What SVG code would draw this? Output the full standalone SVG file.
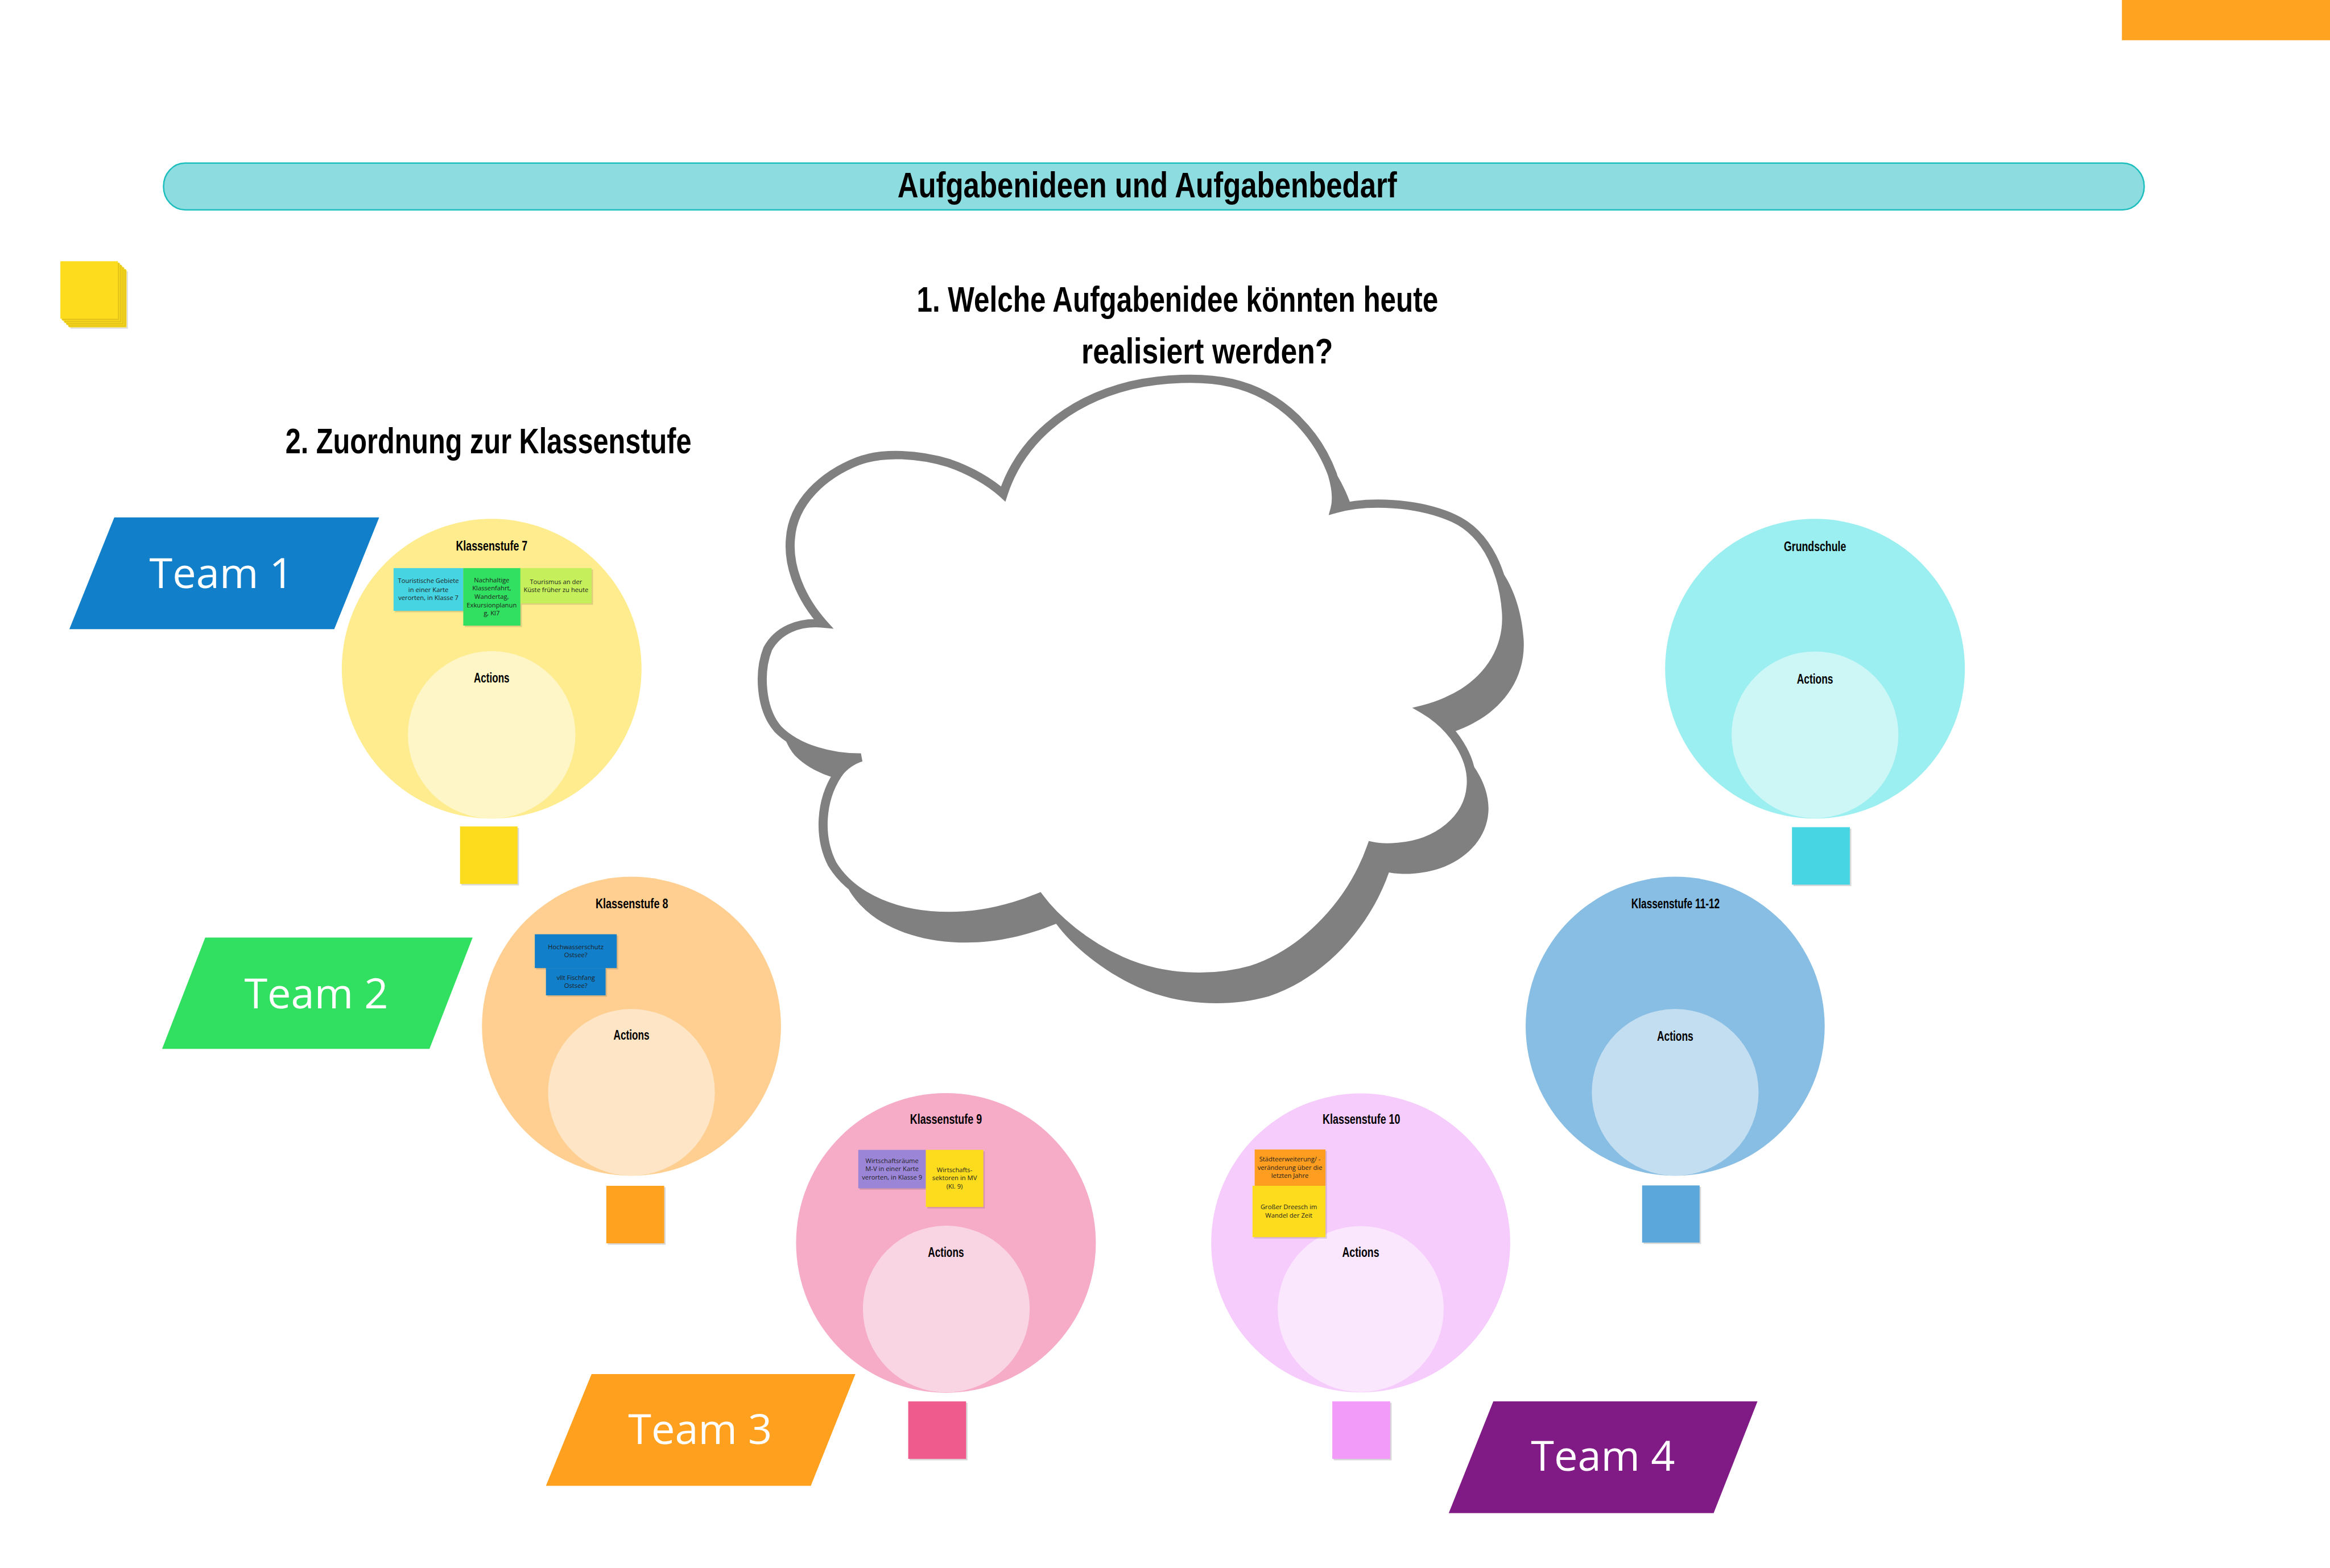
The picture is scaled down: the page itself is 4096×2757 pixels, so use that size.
<svg xmlns="http://www.w3.org/2000/svg" width="4096" height="2757" viewBox="0 0 4096 2757">
<style>
.hand{font-family:"Liberation Sans",Arial,sans-serif;font-weight:700;fill:#000;text-anchor:middle}
.big{font-size:100px}
.lab{font-size:37px}
.note{font-family:"Open Sans","Liberation Sans",sans-serif;font-size:17.8px;fill:#1e1e1e;text-anchor:middle}
.team{font-family:"Open Sans","Liberation Sans",sans-serif;font-size:117px;fill:#fff;text-anchor:middle}
.sh{fill:#000;fill-opacity:0.12}
.sqsh{fill:#d8d8d8}
</style>
<defs>
<path id="cloudPath" d="M507,372 C540,260 630,170 760,135 C820,120 900,115 960,130 C1060,155 1130,240 1160,330 C1168,360 1170,385 1165,405 C1230,385 1330,390 1400,425 C1470,460 1500,550 1505,630 C1510,710 1470,770 1420,805 C1395,822 1365,835 1340,842 C1400,880 1440,950 1435,1010 C1430,1080 1370,1135 1290,1142 C1270,1144 1250,1143 1238,1140 C1200,1260 1110,1370 1000,1410 C920,1435 820,1430 740,1390 C670,1355 610,1300 578,1252 C520,1278 460,1293 400,1293 C300,1293 210,1255 168,1180 C140,1120 145,1040 178,985 C190,965 210,952 225,947 C170,948 100,930 60,885 C25,840 22,760 40,710 C60,670 100,650 150,655 C105,600 80,530 85,470 C90,390 150,330 220,300 C270,280 340,285 400,305 C440,320 480,345 507,372 Z"/>
</defs>
<rect x="0" y="0" width="4096" height="2757" fill="#ffffff"/>
<g transform="scale(0.63181)">

<g id="corner-tab"><rect x="5904" y="0" width="579" height="112" fill="#FFA320"/></g>

<g id="title">
<rect x="455" y="454" width="5511" height="130" rx="60" ry="65" fill="#8DDCDF" stroke="#1DBEBE" stroke-width="4"/>
<text class="hand big" x="3192" y="550" textLength="1390" lengthAdjust="spacingAndGlyphs">Aufgabenideen und Aufgabenbedarf</text>
</g>

<g id="sticky-stack">
<rect x="196" y="755" width="160" height="160" fill="#E0E0E0"/>
<rect x="192" y="751" width="160" height="160" fill="#FDDC1E"/>
<rect x="190" y="749" width="160" height="160" fill="#E3C51B"/>
<rect x="186" y="745" width="160" height="160" fill="#FDDC1E"/>
<rect x="184" y="743" width="160" height="160" fill="#E3C51B"/>
<rect x="180" y="739" width="160" height="160" fill="#FDDC1E"/>
<rect x="178" y="737" width="160" height="160" fill="#E3C51B"/>
<rect x="174" y="733" width="160" height="160" fill="#FDDC1E"/>
<rect x="172" y="731" width="160" height="160" fill="#E3C51B"/>
<rect x="168" y="727" width="160" height="160" fill="#FDDC1E"/>
</g>

<g id="question">
<text class="hand big" x="3276" y="868" textLength="1451" lengthAdjust="spacingAndGlyphs">1. Welche Aufgabenidee könnten heute</text>
<text class="hand big" x="3359" y="1012" textLength="700" lengthAdjust="spacingAndGlyphs">realisiert werden?</text>
</g>

<g id="subtitle">
<text class="hand big" x="1359" y="1262" textLength="1130" lengthAdjust="spacingAndGlyphs">2. Zuordnung zur Klassenstufe</text>
</g>

<g id="cloud" transform="translate(2080,900) scale(1.403,1.2755)">
<use href="#cloudPath" transform="translate(34,58)" fill="#808080"/>
<use href="#cloudPath" fill="#ffffff" stroke="#808080" stroke-width="18"/>
</g>

<g id="connectors"></g>

<g id="team1">
<polygon points="318,1440 1055,1440 930,1751 193,1751" fill="#117FCA"/>
<text class="team" x="616" y="1637">Team 1</text>
</g>
<g id="team2">
<polygon points="571,2609 1315,2609 1195,2919 451,2919" fill="#31E060"/>
<text class="team" x="880" y="2806">Team 2</text>
</g>
<g id="team3">
<polygon points="1646,3824 2380,3824 2256,4135 1519,4135" fill="#FFA01E"/>
<text class="team" x="1948" y="4018">Team 3</text>
</g>
<g id="team4">
<polygon points="4155,3900 4890,3900 4768,4211 4031,4211" fill="#801B86"/>
<text class="team" x="4460" y="4093">Team 4</text>
</g>

<g id="k7">
<circle cx="1368" cy="1861" r="417" fill="#FEEC8F"/>
<circle cx="1368" cy="2045" r="233" fill="#FEF6C6"/>
<text class="hand lab" x="1368" y="1532" textLength="199" lengthAdjust="spacingAndGlyphs">Klassenstufe 7</text>
<text class="hand lab" x="1368" y="1900" textLength="99" lengthAdjust="spacingAndGlyphs">Actions</text>
<rect class="sh" x="1099" y="1585" width="194" height="119"/>
<rect x="1095" y="1581" width="194" height="119" fill="#47D4E2"/>
<text class="note" x="1192"><tspan x="1192" y="1623">Touristische Gebiete</tspan><tspan x="1192" y="1647">in einer Karte</tspan><tspan x="1192" y="1670">verorten, in Klasse 7</tspan></text>
<rect class="sh" x="1293" y="1585" width="159" height="160"/>
<rect x="1289" y="1581" width="159" height="160" fill="#31E060"/>
<text class="note" x="1368"><tspan x="1368" y="1620">Nachhaltige</tspan><tspan x="1368" y="1643">Klassenfahrt,</tspan><tspan x="1368" y="1667">Wandertag,</tspan><tspan x="1368" y="1690">Exkursionplanun</tspan><tspan x="1368" y="1713">g, Kl7</tspan></text>
<rect class="sh" x="1452" y="1585" width="198" height="98"/>
<rect x="1448" y="1581" width="198" height="98" fill="#C5F05B"/>
<text class="note" x="1547"><tspan x="1547" y="1625">Tourismus an der</tspan><tspan x="1547" y="1647">Küste früher zu heute</tspan></text>
<rect class="sqsh" x="1284" y="2304" width="160" height="160"/>
<rect x="1280" y="2300" width="160" height="160" fill="#FDDC1E"/>
</g>

<g id="k8">
<circle cx="1757" cy="2856" r="416" fill="#FECF90"/>
<circle cx="1757" cy="3040" r="232" fill="#FEE5C5"/>
<text class="hand lab" x="1758" y="2527" textLength="202" lengthAdjust="spacingAndGlyphs">Klassenstufe 8</text>
<text class="hand lab" x="1757" y="2894" textLength="100" lengthAdjust="spacingAndGlyphs">Actions</text>
<rect class="sh" x="1492" y="2604" width="228" height="94"/>
<rect x="1488" y="2600" width="228" height="94" fill="#117FCA"/>
<text class="note" x="1602"><tspan x="1602" y="2642">Hochwasserschutz</tspan><tspan x="1602" y="2664">Ostsee?</tspan></text>
<rect class="sh" x="1523" y="2698" width="166" height="76"/>
<rect x="1519" y="2694" width="166" height="76" fill="#117FCA"/>
<text class="note" x="1602"><tspan x="1602" y="2727">vllt Fischfang</tspan><tspan x="1602" y="2749">Ostsee?</tspan></text>
<rect class="sqsh" x="1691" y="3304" width="161" height="160"/>
<rect x="1687" y="3300" width="161" height="160" fill="#FFA21F"/>
</g>

<g id="k9">
<circle cx="2632" cy="3459" r="417" fill="#F6ABC7"/>
<circle cx="2633" cy="3643" r="232" fill="#F9D5E3"/>
<text class="hand lab" x="2632" y="3128" textLength="200" lengthAdjust="spacingAndGlyphs">Klassenstufe 9</text>
<text class="hand lab" x="2632" y="3498" textLength="100" lengthAdjust="spacingAndGlyphs">Actions</text>
<rect class="sh" x="2392" y="3204" width="188" height="107"/>
<rect x="2388" y="3200" width="188" height="107" fill="#9B85D6"/>
<text class="note" x="2482"><tspan x="2482" y="3236">Wirtschaftsräume</tspan><tspan x="2482" y="3259">M-V in einer Karte</tspan><tspan x="2482" y="3282">verorten, in Klasse 9</tspan></text>
<rect class="sh" x="2580" y="3204" width="160" height="159"/>
<rect x="2576" y="3200" width="160" height="159" fill="#FDDC1E"/>
<text class="note" x="2656"><tspan x="2656" y="3262">Wirtschafts-</tspan><tspan x="2656" y="3285">sektoren in MV</tspan><tspan x="2656" y="3308">(Kl. 9)</tspan></text>
<rect class="sqsh" x="2531" y="3904" width="161" height="160"/>
<rect x="2527" y="3900" width="161" height="160" fill="#EF5B8D"/>
</g>

<g id="k10">
<circle cx="3786" cy="3459" r="416" fill="#F6CCFC"/>
<circle cx="3786" cy="3643" r="231" fill="#FAE6FD"/>
<text class="hand lab" x="3788" y="3128" textLength="216" lengthAdjust="spacingAndGlyphs">Klassenstufe 10</text>
<text class="hand lab" x="3786" y="3498" textLength="103" lengthAdjust="spacingAndGlyphs">Actions</text>
<rect class="sh" x="3495" y="3203" width="197" height="101"/>
<rect x="3491" y="3199" width="197" height="101" fill="#FE9D1F"/>
<text class="note" x="3589"><tspan x="3589" y="3232">Städteerweiterung/ -</tspan><tspan x="3589" y="3255">veränderung über die</tspan><tspan x="3589" y="3278">letzten Jahre</tspan></text>
<rect class="sh" x="3489" y="3304" width="203" height="143"/>
<rect x="3485" y="3300" width="203" height="143" fill="#FDDC1E"/>
<text class="note" x="3586"><tspan x="3586" y="3365">Großer Dreesch im</tspan><tspan x="3586" y="3389">Wandel der Zeit</tspan></text>
<rect class="sqsh" x="3711" y="3904" width="161" height="160"/>
<rect x="3707" y="3900" width="161" height="160" fill="#F29BF9"/>
</g>

<g id="k11-12">
<circle cx="4661" cy="2856" r="416" fill="#88BEE4"/>
<circle cx="4661" cy="3040" r="232" fill="#C3DEF1"/>
<text class="hand lab" x="4662" y="2528" textLength="246" lengthAdjust="spacingAndGlyphs">Klassenstufe 11-12</text>
<text class="hand lab" x="4661" y="2897" textLength="101" lengthAdjust="spacingAndGlyphs">Actions</text>
<rect class="sqsh" x="4573" y="3303" width="160" height="159"/>
<rect x="4569" y="3299" width="160" height="159" fill="#5BA7DB"/>
</g>

<g id="grundschule">
<circle cx="5050" cy="1861" r="417" fill="#9BEFF0"/>
<circle cx="5050" cy="2045" r="232" fill="#CDF7F6"/>
<text class="hand lab" x="5050" y="1533" textLength="173" lengthAdjust="spacingAndGlyphs">Grundschule</text>
<text class="hand lab" x="5050" y="1902" textLength="101" lengthAdjust="spacingAndGlyphs">Actions</text>
<rect class="sqsh" x="4990" y="2306" width="161" height="160"/>
<rect x="4986" y="2302" width="161" height="160" fill="#48D5E3"/>
</g>

</g>
</svg>
